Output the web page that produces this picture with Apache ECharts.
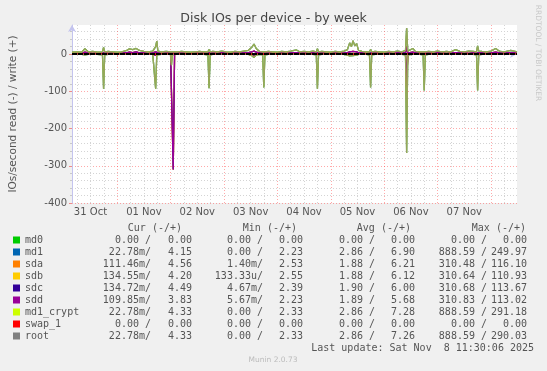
<!DOCTYPE html>
<html><head><meta charset="utf-8">
<script src="https://cdn.jsdelivr.net/npm/echarts@6/dist/echarts.min.js"></script>
<style>html,body{margin:0;padding:0;background:#f0f0f0}#c{width:547px;height:371px}</style>
</head><body><div id="c"></div>
<script>
// ---- time axis (hours since 31 Oct 00:00) ----
const hours = [3.7,6,8,9.5,11,13,15,17.4,17.9,18.4,20,22,24,26,28,29.5,31,32.5,34,36,38,40,40.8,41.3,41.8,42.3,44,46,48.0,48.4,48.8,49.2,49.8,51,53,55,57,59,61,63,64.8,65.3,65.8,67,69,71,73,75,77,79,81,83,84.5,85.5,86.5,88,89.4,89.9,90.4,92,94,96,98,100,102,104.6,106,108,110,112,113.5,114.0,114.5,116,118,120,122,124,126,127.5,128.5,129.3,130.0,130.8,131.6,132.5,134,136,137.4,137.9,138.4,140,142,144,146,148,150,152,153.6,154.1,154.6,156.9,158,160,161.5,162.0,162.5,164,166,168,170,172,174,176.1,178,180,182,184,185.5,186.0,186.5,188,190,192,194.1,196,198,200.9,203.7];

// md1 / md1_crypt / root (write +, read -)
const rootWrite = [5,6,5,14,6,7,5,6,18,6,7,6,5,6,9,14,12,15,10,7,6,8,6,20,35,8,6,7,6,5,6,6,5,6,7,6,5,6,7,6,6,12,6,7,6,8,6,5,7,6,8,10,18,27,15,7,6,10,6,7,6,5,7,6,8,11,6,7,6,8,6,14,6,7,6,5,7,6,8,12,30,20,36,22,28,10,7,6,6,12,6,7,6,5,7,6,8,6,10,70,8,15,7,6,6,10,6,7,6,8,6,7,6,12,7,6,8,7,6,22,8,7,6,8,15,7,6,10,6];
const rootRead = [-1,-1,-1,-2,-1,-1,-1,-2,-93,-2,-1,-1,-1,-1,-1,-1,-1,-1,-1,-1,-1,-1,-2,-93,-2,-1,-1,-1,-1,-30,-2,-1,-1,-1,-1,-1,-1,-1,-1,-1,-2,-92,-2,-1,-1,-1,-1,-1,-1,-1,-1,-1,-4,-9,-3,-1,-2,-90,-2,-1,-1,-1,-1,-1,-1,-1,-1,-1,-1,-1,-2,-93,-2,-1,-1,-1,-1,-1,-1,-3,-5,-6,-4,-6,-3,-1,-1,-1,-2,-90,-2,-1,-1,-1,-1,-1,-1,-1,-2,-266,-2,-1,-1,-1,-2,-98,-2,-1,-1,-1,-1,-1,-1,-1,-1,-1,-1,-1,-2,-98,-2,-1,-1,-1,-1,-1,-1,-1,-1];
// sda / sdb / sdc / sdd
const diskWrite = [2,3,2,5,3,2,3,3,4,3,2,3,2,3,3,5,4,6,3,3,2,3,3,6,8,3,2,3,3,3,3,3,3,3,3,2,3,3,2,3,3,4,3,3,2,3,3,2,3,3,3,4,6,8,5,3,3,4,3,3,2,3,3,2,3,4,3,3,2,3,3,4,3,3,2,3,3,2,3,4,6,5,7,5,6,3,3,2,3,4,3,3,2,3,3,2,3,3,3,20,3,5,3,3,3,4,3,3,2,3,3,2,3,4,3,3,2,3,3,5,3,3,2,3,5,3,3,4,3];
const diskRead = [-1,-1,-1,-1,-1,-1,-1,-1,-3,-1,-1,-1,-1,-1,-1,-1,-1,-1,-1,-1,-1,-1,-1,-3,-1,-1,-1,-1,-1,-100,-205,-310,-1,-1,-1,-1,-1,-1,-1,-1,-1,-3,-1,-1,-1,-1,-1,-1,-1,-1,-1,-1,-2,-3,-1,-1,-1,-3,-1,-1,-1,-1,-1,-1,-1,-1,-1,-1,-1,-1,-1,-3,-1,-1,-1,-1,-1,-1,-1,-1,-2,-2,-2,-2,-1,-1,-1,-1,-1,-3,-1,-1,-1,-1,-1,-1,-1,-1,-1,-90,-1,-1,-1,-1,-1,-3,-1,-1,-1,-1,-1,-1,-1,-1,-1,-1,-1,-1,-1,-3,-1,-1,-1,-1,-1,-1,-1,-1,-1];
// md0 / swap_1 stay flat at zero
const flatHours = [3.7, 203.7];
const md0Write = [0, 0], md0Read = [0, 0];
const swap1Write = [0, 0], swap1Read = [0, 0];

// ---- ticks / labels ----
const dayLabelHours = [12,36,60,84,108,132,156,180];
const dayLabels = ['31 Oct','01 Nov','02 Nov','03 Nov','04 Nov','05 Nov','06 Nov','07 Nov'];
const midnightHours = [24,48,72,96,120,144,168,192];
const sixHourMarks = [6,12,18,30,36,42,54,60,66,78,84,90,102,108,114,126,132,138,150,156,162,174,180,186,198];
const yMajorTicks = [-400,-300,-200,-100,0];
const yMinorTicks = [-380,-360,-340,-320,-280,-260,-240,-220,-180,-160,-140,-120,-80,-60,-40,-20,20,40,60];

// ---- legend table ----
const names = ['md0','md1','sda','sdb','sdc','sdd','md1_crypt','swap_1','root'];
const colors = ['#00cc00','#0066b3','#ff8000','#ffcc00','#330099','#990099','#ccff00','#ff0000','#808080'];
const curRead = ['0.00 /','22.78m/','111.46m/','134.55m/','134.72m/','109.85m/','22.78m/','0.00 /','22.78m/'];
const curWrite = ['0.00','4.15','4.56','4.20','4.49','3.83','4.33','0.00','4.33'];
const minRead = ['0.00 /','0.00 /','1.40m/','133.33u/','4.67m/','5.67m/','0.00 /','0.00 /','0.00 /'];
const minWrite = ['0.00','2.23','2.53','2.55','2.39','2.23','2.33','0.00','2.33'];
const avgRead = ['0.00 /','2.86 /','1.88 /','1.88 /','1.90 /','1.89 /','2.86 /','0.00 /','2.86 /'];
const avgWrite = ['0.00','6.90','6.21','6.12','6.00','5.68','7.28','0.00','7.26'];
const maxRead = ['0.00 /','888.59 /','310.48 /','310.64 /','310.68 /','310.83 /','888.59 /','0.00 /','888.59 /'];
const maxWrite = ['0.00','249.97','116.10','110.93','113.67','113.02','291.18','0.00','290.03'];
const headers = ['Cur (-/+)','Min (-/+)','Avg (-/+)','Max (-/+)'];

const seriesData = {
  md0: [flatHours, md0Write, md0Read],
  md1: [hours, rootWrite, rootRead],
  sda: [hours, diskWrite, diskRead],
  sdb: [hours, diskWrite, diskRead],
  sdc: [hours, diskWrite, diskRead],
  sdd: [hours, diskWrite, diskRead],
  md1_crypt: [hours, rootWrite, rootRead],
  swap_1: [flatHours, swap1Write, swap1Read],
  root: [hours, rootWrite, rootRead]
};

function pairs(xs, ys) { return xs.map((x, i) => [x, ys[i]]); }

const FONT = 'DejaVu Sans';
const MONO = 'DejaVu Sans Mono';
const txt = '#555';

const series = [];
names.forEach((n, i) => {
  const [xs, w, r] = seriesData[n];
  const op = n === 'root' ? 0.7 : 1;
  [w, r].forEach(vals => {
    series.push({
      type: 'line', name: n, xAxisIndex: 1, yAxisIndex: 1,
      data: pairs(xs, vals), symbol: 'none', showSymbol: false, silent: true,
      lineStyle: { color: colors[i], width: 1.3, opacity: op },
      itemStyle: { color: colors[i] }
    });
  });
});
series.push({
  type: 'line', xAxisIndex: 1, yAxisIndex: 1, data: [], silent: true,
  markLine: { silent: true, symbol: 'none', label: { show: false },
    lineStyle: { color: '#000', width: 2, type: [5, 1] }, data: [{ yAxis: 0 }] }
});

const graphic = [];
const readRight = [151, 263, 375, 487];
const writeRight = [192, 303, 415, 527];
const headerRight = [182, 297, 411, 526];
headers.forEach((h, k) => graphic.push({ type: 'text', x: headerRight[k], y: 228,
  style: { text: h, fill: txt, font: '10px "' + MONO + '"', align: 'right', verticalAlign: 'middle' } }));
const readCols = [curRead, minRead, avgRead, maxRead];
const writeCols = [curWrite, minWrite, avgWrite, maxWrite];
names.forEach((n, i) => {
  const y = 240 + 12 * i;
  for (let k = 0; k < 4; k++) {
    graphic.push({ type: 'text', x: readRight[k], y: y,
      style: { text: readCols[k][i], fill: txt, font: '10px "' + MONO + '"', align: 'right', verticalAlign: 'middle' } });
    graphic.push({ type: 'text', x: writeRight[k], y: y,
      style: { text: writeCols[k][i], fill: txt, font: '10px "' + MONO + '"', align: 'right', verticalAlign: 'middle' } });
  }
});
graphic.push({ type: 'text', x: 534, y: 348,
  style: { text: 'Last update: Sat Nov  8 11:30:06 2025', fill: txt, font: '10px "' + MONO + '"', align: 'right', verticalAlign: 'middle' } });
graphic.push({ type: 'text', x: 273, y: 360,
  style: { text: 'Munin 2.0.73', fill: '#bbb', font: '7.5px "' + FONT + '"', align: 'center', verticalAlign: 'middle' } });
graphic.push({ type: 'text', x: 538, y: 53, rotation: -Math.PI / 2,
  style: { text: 'RRDTOOL / TOBI OETIKER', fill: '#c8c8c8', font: '7.5px "' + FONT + '"', align: 'center', verticalAlign: 'middle' } });

const chart = echarts.init(document.getElementById('c'), null, { renderer: 'canvas' });
chart.setOption({
  animation: false,
  backgroundColor: '#f0f0f0',
  title: { text: 'Disk IOs per device - by week', left: 'center', top: 12, padding: 0,
    textStyle: { fontFamily: FONT, fontSize: 12.6, fontWeight: 'normal', color: '#444' } },
  grid: { left: 67, right: 30, top: 25, bottom: 168, show: true, backgroundColor: '#fff', borderWidth: 0 },
  legend: { orient: 'vertical', left: 13, top: 234, itemWidth: 7, itemHeight: 7, itemGap: 0, icon: 'rect',
    padding: 0, selectedMode: false,
    textStyle: { fontFamily: MONO, fontSize: 10, color: txt, lineHeight: 12 },
    data: names.map((n, i) => ({ name: n, itemStyle: { color: colors[i], opacity: 1 } })) },
  xAxis: [
    { type: 'value', min: 3.7, max: 203.7, position: 'bottom',
      axisLine: { show: false },
      axisTick: { show: true, customValues: sixHourMarks, length: 2, lineStyle: { color: '#c8c8c8' } },
      axisLabel: { show: false },
      splitLine: { show: true, lineStyle: { color: '#d4d4d4', width: 1, type: [1, 2] } } },
    { type: 'value', min: 3.7, max: 203.7, position: 'bottom',
      axisLine: { show: true, lineStyle: { color: '#c4c4ee', width: 1 }, symbol: ['none', 'arrow'], symbolSize: [6, 7] },
      axisTick: { show: true, customValues: midnightHours, length: 3, lineStyle: { color: '#f08a8a' } },
      axisLabel: { customValues: dayLabelHours, formatter: v => dayLabels[dayLabelHours.indexOf(v)],
        margin: 4, fontFamily: FONT, fontSize: 10, color: txt },
      splitLine: { show: true, lineStyle: { color: 'rgba(255,40,40,0.4)', width: 1, type: [1, 2] } } }
  ],
  yAxis: [
    { type: 'value', min: -400, max: 78, position: 'left',
      axisLine: { show: false },
      axisTick: { show: true, customValues: yMinorTicks, length: 2, lineStyle: { color: '#c8c8c8' } },
      axisLabel: { show: false },
      splitLine: { show: true, lineStyle: { color: '#d4d4d4', width: 1, type: [1, 2] } } },
    { type: 'value', min: -400, max: 78, position: 'left',
      name: 'IOs/second read (-) / write (+)', nameLocation: 'middle', nameGap: 53,
      nameTextStyle: { fontFamily: FONT, fontSize: 10.5, color: txt },
      axisLine: { show: true, lineStyle: { color: '#c4c4ee', width: 1 }, symbol: ['none', 'arrow'], symbolSize: [6, 7] },
      axisTick: { show: true, customValues: yMajorTicks, length: 3, lineStyle: { color: '#f08a8a' } },
      axisLabel: { customValues: yMajorTicks, margin: 5, fontFamily: FONT, fontSize: 10, color: txt },
      splitLine: { show: true, lineStyle: { color: 'rgba(255,40,40,0.4)', width: 1, type: [1, 2] } } }
  ],
  series: series,
  graphic: graphic
});
</script></body></html>
